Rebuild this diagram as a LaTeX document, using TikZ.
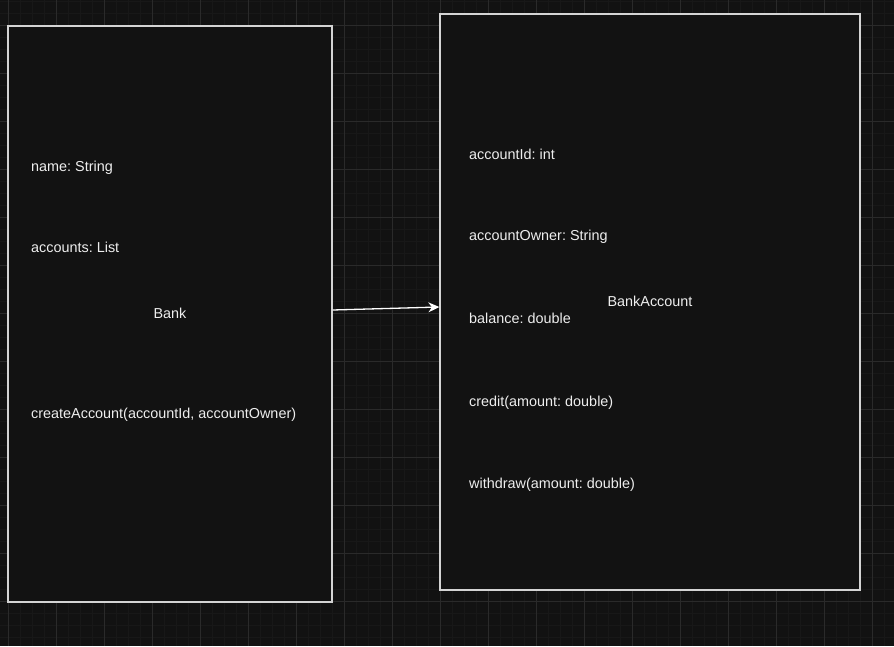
\documentclass[tikz,border=0pt]{standalone}
\usepackage{fontspec}
\setmainfont{Liberation Sans}
\usetikzlibrary{positioning,arrows.meta}
\definecolor{canvasbg}{HTML}{121212}
\definecolor{gridminor}{HTML}{181818}
\definecolor{gridmajor}{HTML}{2A2A2A}
\definecolor{boxline}{HTML}{D4D4D4}
\definecolor{labeltext}{HTML}{EEEEEE}
\frenchspacing
\tikzset{
  classbox/.style={draw=boxline, fill=canvasbg, line width=1.3pt,
    inner sep=0pt, text=labeltext},
  member/.style={anchor=base west, inner sep=0pt, text=labeltext},
}
\begin{document}
\begin{tikzpicture}[x=1pt, y=-1pt, font=\fontsize{14.4}{17}\selectfont]
    \fill[canvasbg] (0,0) rectangle (894,646);
    \useasboundingbox (0,0) rectangle (894,646);
    % background grid
    \foreach \x in {8,20,...,884} {
      \draw[gridminor, line width=0.8pt] (\x,0) -- (\x,646);
    }
    \foreach \y in {1,13,...,645} {
      \draw[gridminor, line width=0.8pt] (0,\y) -- (894,\y);
    }
    \foreach \x in {8,56,...,872} {
      \draw[gridmajor, line width=0.8pt] (\x,0) -- (\x,646);
    }
    \foreach \y in {25,73,...,601} {
      \draw[gridmajor, line width=0.8pt] (0,\y) -- (894,\y);
    }
    % classes
    \node[classbox, minimum width=324pt, minimum height=576pt] (bank)
      at (170,314) {\raisebox{1pt}{Bank}};
    \node[classbox, minimum width=420pt, minimum height=576pt] (bankaccount)
      at (650,302) {\raisebox{1pt}{BankAccount}};
    % members of Bank
    \node[member] (bankname) at (31,171.5) {name: String};
    \node[member] (bankaccounts) at (31,252.5) {accounts: List};
    \node[member] (bankcreate) at (31,418.5)
      {createAccount(accountId, accountOwner)};
    % members of BankAccount
    \node[member] (accid) at (469,159.5) {accountId: int};
    \node[member] (accowner) at (469,240.5) {accountOwner: String};
    \node[member] (accbalance) at (469,323.5) {balance: double};
    \node[member] (acccredit) at (469,406.5) {credit(amount: double)};
    \node[member] (accwithdraw) at (469,488.5) {withdraw(amount: double)};
    % association
    \draw[white, line width=1.3pt,
      -{Stealth[length=11pt, width=10pt, inset=3.5pt]}]
      ([yshift=4pt]bank.east) -- ([yshift=-5pt]bankaccount.west);
  \end{tikzpicture}
\end{document}
